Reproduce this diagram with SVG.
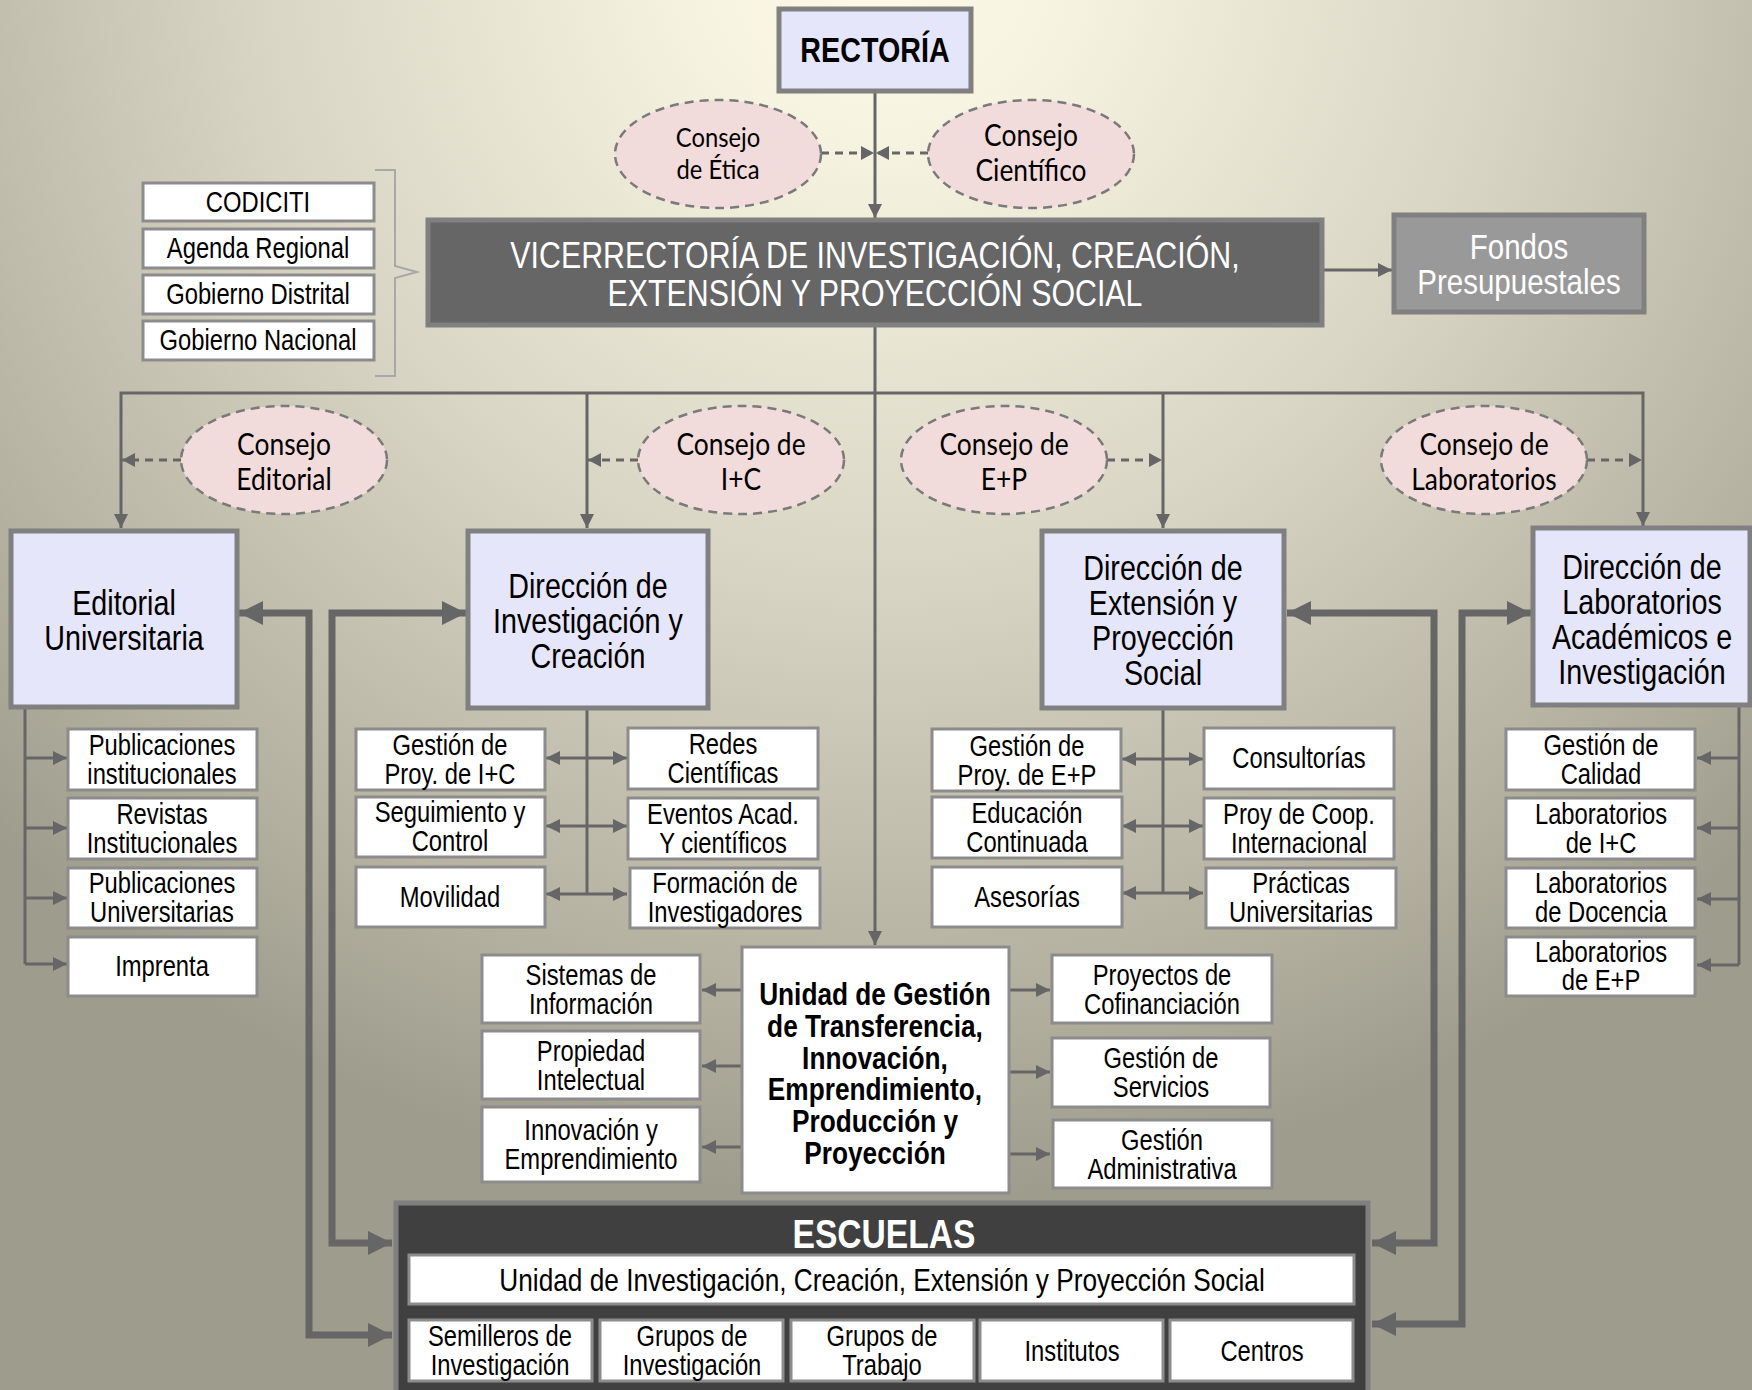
<svg xmlns="http://www.w3.org/2000/svg" width="1752" height="1390" viewBox="0 0 1752 1390">
<defs>
<radialGradient id="bg" gradientUnits="userSpaceOnUse" cx="880" cy="-50" r="1250">
<stop offset="0" stop-color="#fcf9e7"/>
<stop offset="0.15" stop-color="#f6f3e1"/>
<stop offset="0.5" stop-color="#d8d5c4"/>
<stop offset="0.85" stop-color="#b2af9f"/>
<stop offset="1" stop-color="#9e9c8c"/>
</radialGradient>
<marker id="ah" markerUnits="userSpaceOnUse" markerWidth="16" markerHeight="16" refX="14" refY="8" orient="auto-start-reverse" viewBox="0 0 16 16"><path d="M0,1 L14,8 L0,15 z" fill="#666"/></marker>
<marker id="ahd" markerUnits="userSpaceOnUse" markerWidth="14" markerHeight="14" refX="13" refY="7" orient="auto-start-reverse" viewBox="0 0 14 14"><path d="M0,0 L13,7 L0,14 z" fill="#666"/></marker>
<marker id="ahb" markerUnits="userSpaceOnUse" markerWidth="26" markerHeight="26" refX="24" refY="12" orient="auto-start-reverse" viewBox="0 0 26 24"><path d="M0,0 L24,12 L0,24 z" fill="#666"/></marker>
<style>
.t{font-family:"Liberation Sans",Arial,sans-serif;fill:#000;text-anchor:middle;transform-box:fill-box;transform-origin:50% 50%;transform:scaleX(0.82)}
.c{font-family:Lato,"Open Sans",sans-serif;fill:#000;text-anchor:middle;transform-box:fill-box;transform-origin:50% 50%;transform:scaleX(0.88)}
.w{fill:#fff}
.dir{fill:#e6e6fa;stroke:#808080;stroke-width:5}
.sub{fill:#fff;stroke:#8c8c8c;stroke-width:3}
.ell{fill:#f2dcdb;stroke:#7a7a7a;stroke-width:2.5;stroke-dasharray:9 6}
.ln{fill:none;stroke:#666;stroke-width:3}
.dash{fill:none;stroke:#666;stroke-width:3;stroke-dasharray:8 6}
.thick{fill:none;stroke:#666;stroke-width:7}
.s28{font-size:29px}
.d35{font-size:35px}
.e{font-size:30px}
</style>
</defs>
<rect x="0" y="0" width="1752" height="1390" fill="url(#bg)"/>

<g id="connectors">
<line class="ln" x1="875" y1="91" x2="875" y2="218" marker-end="url(#ah)"/>
<line class="dash" x1="821" y1="153" x2="874" y2="153" marker-end="url(#ahd)"/>
<line class="dash" x1="928" y1="153" x2="876" y2="153" marker-end="url(#ahd)"/>
<line class="ln" x1="1322" y1="270" x2="1392" y2="270" marker-end="url(#ah)"/>
<path d="M375,170 L395,170 L395,266 L417,272 L395,278 L395,376 L375,376" fill="none" stroke="#a8a8a8" stroke-width="2"/>
<line class="ln" x1="875" y1="325" x2="875" y2="945" marker-end="url(#ah)"/>
<path class="ln" d="M121,528 L121,393 L1643,393 L1643,526" marker-start="url(#ah)" marker-end="url(#ah)"/>
<line class="ln" x1="587" y1="393" x2="587" y2="528" marker-end="url(#ah)"/>
<line class="ln" x1="1163" y1="393" x2="1163" y2="528" marker-end="url(#ah)"/>
<line class="dash" x1="181" y1="460" x2="122" y2="460" marker-end="url(#ahd)"/>
<line class="dash" x1="638" y1="460" x2="588" y2="460" marker-end="url(#ahd)"/>
<line class="dash" x1="1107" y1="460" x2="1162" y2="460" marker-end="url(#ahd)"/>
<line class="dash" x1="1587" y1="460" x2="1642" y2="460" marker-end="url(#ahd)"/>

<path class="thick" d="M239,613 L309,613 L309,1335 L392,1335" marker-start="url(#ahb)" marker-end="url(#ahb)"/>
<path class="thick" d="M466,613 L332,613 L332,1243 L392,1243" marker-start="url(#ahb)" marker-end="url(#ahb)"/>
<path class="thick" d="M1287,613 L1434,613 L1434,1243 L1372,1243" marker-start="url(#ahb)" marker-end="url(#ahb)"/>
<path class="thick" d="M1531,613 L1462,613 L1462,1324 L1372,1324" marker-start="url(#ahb)" marker-end="url(#ahb)"/>

<path class="ln" d="M25,707 L25,964"/>
<line class="ln" x1="25" y1="758" x2="67" y2="758" marker-end="url(#ah)"/>
<line class="ln" x1="25" y1="828" x2="67" y2="828" marker-end="url(#ah)"/>
<line class="ln" x1="25" y1="898" x2="67" y2="898" marker-end="url(#ah)"/>
<line class="ln" x1="25" y1="964" x2="67" y2="964" marker-end="url(#ah)"/>

<path class="ln" d="M587,708 L587,894"/>
<line class="ln" x1="546" y1="758" x2="627" y2="758" marker-start="url(#ah)" marker-end="url(#ah)"/>
<line class="ln" x1="546" y1="826" x2="627" y2="826" marker-start="url(#ah)" marker-end="url(#ah)"/>
<line class="ln" x1="546" y1="894" x2="627" y2="894" marker-start="url(#ah)" marker-end="url(#ah)"/>

<path class="ln" d="M1163,708 L1163,893"/>
<line class="ln" x1="1122" y1="759" x2="1203" y2="759" marker-start="url(#ah)" marker-end="url(#ah)"/>
<line class="ln" x1="1122" y1="826" x2="1203" y2="826" marker-start="url(#ah)" marker-end="url(#ah)"/>
<line class="ln" x1="1122" y1="893" x2="1203" y2="893" marker-start="url(#ah)" marker-end="url(#ah)"/>

<path class="ln" d="M1739,705 L1739,965"/>
<line class="ln" x1="1739" y1="758" x2="1697" y2="758" marker-end="url(#ah)"/>
<line class="ln" x1="1739" y1="828" x2="1697" y2="828" marker-end="url(#ah)"/>
<line class="ln" x1="1739" y1="899" x2="1697" y2="899" marker-end="url(#ah)"/>
<line class="ln" x1="1739" y1="965" x2="1697" y2="965" marker-end="url(#ah)"/>

<line class="ln" x1="742" y1="990" x2="702" y2="990" marker-end="url(#ah)"/>
<line class="ln" x1="742" y1="1066" x2="702" y2="1066" marker-end="url(#ah)"/>
<line class="ln" x1="742" y1="1147" x2="702" y2="1147" marker-end="url(#ah)"/>
<line class="ln" x1="1009" y1="990" x2="1050" y2="990" marker-end="url(#ah)"/>
<line class="ln" x1="1009" y1="1072" x2="1050" y2="1072" marker-end="url(#ah)"/>
<line class="ln" x1="1009" y1="1154" x2="1050" y2="1154" marker-end="url(#ah)"/>
</g>

<g id="rectoria"><rect class="dir" x="779" y="9" width="192" height="82"/><text class="t" x="875" y="62" font-size="35" font-weight="bold">RECTORÍA</text></g>
<g id="consejo-etica"><ellipse class="ell" cx="718" cy="154" rx="103" ry="54"/><text class="c" x="718" y="147" font-size="27">Consejo</text><text class="c" x="718" y="179" font-size="27">de Ética</text></g>
<g id="consejo-cientifico"><ellipse class="ell" cx="1031" cy="154" rx="103" ry="54"/><text class="c e" x="1031" y="146">Consejo</text><text class="c e" x="1031" y="181">Científico</text></g>

<g id="vicerrectoria"><rect x="428" y="220" width="894" height="105" fill="#666" stroke="#808080" stroke-width="5"/><text class="t w" x="875" y="268" font-size="37">VICERRECTORÍA DE INVESTIGACIÓN, CREACIÓN,</text><text class="t w" x="875" y="306" font-size="37">EXTENSIÓN Y PROYECCIÓN SOCIAL</text></g>
<g id="fondos"><rect x="1394" y="215" width="250" height="97" fill="#999" stroke="#808080" stroke-width="5"/><text class="t w" x="1519" y="259" font-size="36">Fondos</text><text class="t w" x="1519" y="294" font-size="36">Presupuestales</text></g>

<g id="codiciti"><rect class="sub" x="143" y="183" width="231" height="38"/><text class="t" x="258" y="212" font-size="29">CODICITI</text></g>
<g id="agenda-regional"><rect class="sub" x="143" y="229" width="231" height="39"/><text class="t" x="258" y="258" font-size="29">Agenda Regional</text></g>
<g id="gobierno-distrital"><rect class="sub" x="143" y="275" width="231" height="39"/><text class="t" x="258" y="304" font-size="29">Gobierno Distrital</text></g>
<g id="gobierno-nacional"><rect class="sub" x="143" y="321" width="231" height="39"/><text class="t" x="258" y="350" font-size="29">Gobierno Nacional</text></g>

<g id="consejo-editorial"><ellipse class="ell" cx="284" cy="460" rx="103" ry="54"/><text class="c e" x="284" y="455">Consejo</text><text class="c e" x="284" y="490">Editorial</text></g>
<g id="consejo-ic"><ellipse class="ell" cx="741" cy="460" rx="103" ry="54"/><text class="c e" x="741" y="455">Consejo de</text><text class="c e" x="741" y="490">I+C</text></g>
<g id="consejo-ep"><ellipse class="ell" cx="1004" cy="460" rx="103" ry="54"/><text class="c e" x="1004" y="455">Consejo de</text><text class="c e" x="1004" y="490">E+P</text></g>
<g id="consejo-laboratorios"><ellipse class="ell" cx="1484" cy="460" rx="103" ry="54"/><text class="c e" x="1484" y="455">Consejo de</text><text class="c e" x="1484" y="490">Laboratorios</text></g>

<g id="editorial"><rect class="dir" x="11" y="531" width="226" height="176"/><text class="t d35" x="124" y="615">Editorial</text><text class="t d35" x="124" y="650">Universitaria</text></g>
<g id="dir-ic"><rect class="dir" x="468" y="531" width="240" height="177"/><text class="t d35" x="588" y="598">Dirección de</text><text class="t d35" x="588" y="633">Investigación y</text><text class="t d35" x="588" y="668">Creación</text></g>
<g id="dir-ep"><rect class="dir" x="1042" y="531" width="242" height="177"/><text class="t d35" x="1163" y="580">Dirección de</text><text class="t d35" x="1163" y="615">Extensión y</text><text class="t d35" x="1163" y="650">Proyección</text><text class="t d35" x="1163" y="685">Social</text></g>
<g id="dir-lab"><rect class="dir" x="1533" y="528" width="217" height="177"/><text class="t d35" x="1642" y="579">Dirección de</text><text class="t d35" x="1642" y="614">Laboratorios</text><text class="t d35" x="1642" y="649">Académicos e</text><text class="t d35" x="1642" y="684">Investigación</text></g>

<g id="pub-inst"><rect class="sub" x="68" y="729" width="189" height="61"/><text class="t s28" x="162" y="755">Publicaciones</text><text class="t s28" x="162" y="784">institucionales</text></g>
<g id="revistas"><rect class="sub" x="68" y="798" width="189" height="61"/><text class="t s28" x="162" y="824">Revistas</text><text class="t s28" x="162" y="853">Institucionales</text></g>
<g id="pub-univ"><rect class="sub" x="68" y="868" width="189" height="60"/><text class="t s28" x="162" y="893">Publicaciones</text><text class="t s28" x="162" y="922">Universitarias</text></g>
<g id="imprenta"><rect class="sub" x="68" y="937" width="189" height="59"/><text class="t s28" x="162" y="976">Imprenta</text></g>

<g id="gestion-ic"><rect class="sub" x="356" y="729" width="189" height="61"/><text class="t s28" x="450" y="755">Gestión de</text><text class="t s28" x="450" y="784">Proy. de I+C</text></g>
<g id="seguimiento"><rect class="sub" x="356" y="797" width="189" height="60"/><text class="t s28" x="450" y="822">Seguimiento y</text><text class="t s28" x="450" y="851">Control</text></g>
<g id="movilidad"><rect class="sub" x="356" y="867" width="189" height="60"/><text class="t s28" x="450" y="907">Movilidad</text></g>
<g id="redes"><rect class="sub" x="628" y="728" width="190" height="61"/><text class="t s28" x="723" y="754">Redes</text><text class="t s28" x="723" y="783">Científicas</text></g>
<g id="eventos"><rect class="sub" x="628" y="798" width="190" height="61"/><text class="t s28" x="723" y="824">Eventos Acad.</text><text class="t s28" x="723" y="853">Y científicos</text></g>
<g id="formacion"><rect class="sub" x="630" y="868" width="190" height="60"/><text class="t s28" x="725" y="893">Formación de</text><text class="t s28" x="725" y="922">Investigadores</text></g>

<g id="gestion-ep"><rect class="sub" x="932" y="729" width="189" height="62"/><text class="t s28" x="1027" y="756">Gestión de</text><text class="t s28" x="1027" y="785">Proy. de E+P</text></g>
<g id="educacion"><rect class="sub" x="932" y="797" width="190" height="61"/><text class="t s28" x="1027" y="823">Educación</text><text class="t s28" x="1027" y="852">Continuada</text></g>
<g id="asesorias"><rect class="sub" x="932" y="867" width="190" height="60"/><text class="t s28" x="1027" y="907">Asesorías</text></g>
<g id="consultorias"><rect class="sub" x="1204" y="728" width="190" height="61"/><text class="t s28" x="1299" y="768">Consultorías</text></g>
<g id="coop"><rect class="sub" x="1204" y="798" width="190" height="61"/><text class="t s28" x="1299" y="824">Proy de Coop.</text><text class="t s28" x="1299" y="853">Internacional</text></g>
<g id="practicas"><rect class="sub" x="1206" y="868" width="190" height="60"/><text class="t s28" x="1301" y="893">Prácticas</text><text class="t s28" x="1301" y="922">Universitarias</text></g>

<g id="calidad"><rect class="sub" x="1506" y="729" width="189" height="61"/><text class="t s28" x="1601" y="755">Gestión de</text><text class="t s28" x="1601" y="784">Calidad</text></g>
<g id="lab-ic"><rect class="sub" x="1506" y="798" width="189" height="61"/><text class="t s28" x="1601" y="824">Laboratorios</text><text class="t s28" x="1601" y="853">de I+C</text></g>
<g id="lab-docencia"><rect class="sub" x="1506" y="868" width="189" height="60"/><text class="t s28" x="1601" y="893">Laboratorios</text><text class="t s28" x="1601" y="922">de Docencia</text></g>
<g id="lab-ep"><rect class="sub" x="1506" y="937" width="189" height="59"/><text class="t s28" x="1601" y="962">Laboratorios</text><text class="t s28" x="1601" y="990">de E+P</text></g>

<g id="unidad-gestion"><rect class="sub" x="742" y="947" width="267" height="246"/>
<text class="t" x="875" y="1005" font-size="32" font-weight="bold">Unidad de Gestión</text>
<text class="t" x="875" y="1037" font-size="32" font-weight="bold">de Transferencia,</text>
<text class="t" x="875" y="1069" font-size="32" font-weight="bold">Innovación,</text>
<text class="t" x="875" y="1100" font-size="32" font-weight="bold">Emprendimiento,</text>
<text class="t" x="875" y="1132" font-size="32" font-weight="bold">Producción y</text>
<text class="t" x="875" y="1164" font-size="32" font-weight="bold">Proyección</text></g>
<g id="sistemas"><rect class="sub" x="482" y="955" width="218" height="68"/><text class="t s28" x="591" y="985">Sistemas de</text><text class="t s28" x="591" y="1014">Información</text></g>
<g id="propiedad"><rect class="sub" x="482" y="1031" width="218" height="68"/><text class="t s28" x="591" y="1061">Propiedad</text><text class="t s28" x="591" y="1090">Intelectual</text></g>
<g id="innovacion"><rect class="sub" x="482" y="1107" width="218" height="75"/><text class="t s28" x="591" y="1140">Innovación y</text><text class="t s28" x="591" y="1169">Emprendimiento</text></g>
<g id="cofinanciacion"><rect class="sub" x="1052" y="955" width="220" height="68"/><text class="t s28" x="1162" y="985">Proyectos de</text><text class="t s28" x="1162" y="1014">Cofinanciación</text></g>
<g id="servicios"><rect class="sub" x="1052" y="1038" width="218" height="69"/><text class="t s28" x="1161" y="1068">Gestión de</text><text class="t s28" x="1161" y="1097">Servicios</text></g>
<g id="administrativa"><rect class="sub" x="1053" y="1120" width="219" height="68"/><text class="t s28" x="1162" y="1150">Gestión</text><text class="t s28" x="1162" y="1179">Administrativa</text></g>

<g id="escuelas"><rect x="396" y="1203" width="972" height="195" fill="#404040" stroke="#808080" stroke-width="5"/>
<text class="t w" x="884" y="1248" font-size="41" font-weight="bold">ESCUELAS</text>
<rect class="sub" x="409" y="1255" width="945" height="49"/><text class="t" x="882" y="1291" font-size="32">Unidad de Investigación, Creación, Extensión y Proyección Social</text></g>
<g id="semilleros"><rect class="sub" x="409" y="1320" width="183" height="61"/><text class="t s28" x="500" y="1346">Semilleros de</text><text class="t s28" x="500" y="1375">Investigación</text></g>
<g id="grupos-inv"><rect class="sub" x="600" y="1320" width="183" height="61"/><text class="t s28" x="692" y="1346">Grupos de</text><text class="t s28" x="692" y="1375">Investigación</text></g>
<g id="grupos-trabajo"><rect class="sub" x="791" y="1320" width="183" height="61"/><text class="t s28" x="882" y="1346">Grupos de</text><text class="t s28" x="882" y="1375">Trabajo</text></g>
<g id="institutos"><rect class="sub" x="980" y="1320" width="183" height="61"/><text class="t s28" x="1072" y="1361">Institutos</text></g>
<g id="centros"><rect class="sub" x="1170" y="1320" width="183" height="61"/><text class="t s28" x="1262" y="1361">Centros</text></g>
</svg>
